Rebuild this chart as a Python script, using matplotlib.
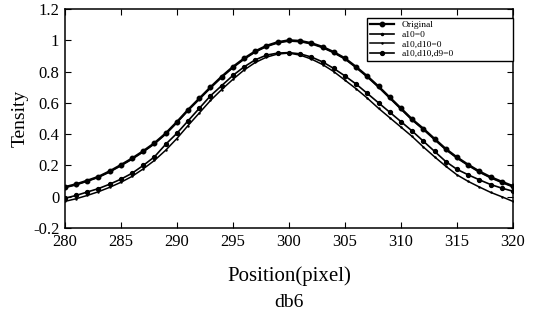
import numpy as np
import matplotlib
matplotlib.use('Agg')
import matplotlib.pyplot as plt

plt.rcParams['font.family'] = ['Liberation Serif', 'DejaVu Serif']

# positions (pixel) and intensity curves
position = np.arange(280, 321)

original = [0.062, 0.080, 0.103, 0.128, 0.163, 0.203, 0.245, 0.292, 0.343, 0.405,
            0.478, 0.556, 0.628, 0.700, 0.768, 0.830, 0.884, 0.930, 0.965, 0.988,
            1.000, 0.996, 0.982, 0.958, 0.925, 0.885, 0.830, 0.770, 0.705, 0.635,
            0.565, 0.495, 0.435, 0.370, 0.306, 0.252, 0.205, 0.162, 0.126, 0.096,
            0.068]
a10 = [0.058, 0.076, 0.099, 0.124, 0.158, 0.198, 0.240, 0.287, 0.338, 0.400,
       0.473, 0.551, 0.623, 0.695, 0.763, 0.825, 0.879, 0.925, 0.960, 0.983,
       0.995, 0.991, 0.977, 0.953, 0.920, 0.880, 0.825, 0.765, 0.700, 0.630,
       0.560, 0.490, 0.430, 0.365, 0.301, 0.247, 0.200, 0.157, 0.121, 0.091,
       0.063]
a10_d10 = [-0.030, -0.013, 0.008, 0.032, 0.060, 0.092, 0.130, 0.178, 0.232, 0.297,
           0.372, 0.455, 0.535, 0.615, 0.685, 0.750, 0.810, 0.858, 0.892, 0.912,
           0.918, 0.905, 0.880, 0.845, 0.800, 0.745, 0.690, 0.630, 0.565, 0.505,
           0.445, 0.385, 0.318, 0.255, 0.195, 0.140, 0.098, 0.062, 0.028, 0.000,
           -0.030]
a10_d10_d9 = [-0.010, 0.008, 0.030, 0.052, 0.080, 0.112, 0.150, 0.200, 0.255, 0.335,
              0.405, 0.485, 0.565, 0.645, 0.710, 0.775, 0.830, 0.875, 0.905, 0.918,
              0.921, 0.913, 0.893, 0.862, 0.820, 0.772, 0.720, 0.660, 0.600, 0.540,
              0.480, 0.420, 0.355, 0.290, 0.225, 0.175, 0.140, 0.108, 0.078, 0.055,
              0.035]

xticks = [280, 285, 290, 295, 300, 305, 310, 315, 320]
yticks = [-0.2, 0, 0.2, 0.4, 0.6, 0.8, 1, 1.2]
ytick_labels = ['-0.2', '0', '0.2', '0.4', '0.6', '0.8', '1', '1.2']

fig = plt.figure(figsize=(5.36, 3.2), dpi=100)
ax = fig.add_axes([0.121, 0.2875, 0.836, 0.6845])

ax.plot(position, original, color='black', lw=1.6, marker='o', ms=3.2, label='Original')
ax.plot(position, a10, color='black', lw=1.2, marker='.', ms=3, label='a10=0')
ax.plot(position, a10_d10, color='black', lw=1.1, marker='.', ms=1.5, label='a10,d10=0')
ax.plot(position, a10_d10_d9, color='black', lw=1.2, marker='o', ms=2.8, label='a10,d10,d9=0')

ax.set_xlim(280, 320)
ax.set_ylim(-0.2, 1.2)
ax.set_xticks(xticks)
ax.set_yticks(yticks)
ax.set_yticklabels(ytick_labels)
ax.tick_params(direction='in', top=True, right=True, length=4, labelsize=12, pad=4)
for s in ax.spines.values():
    s.set_linewidth(1.1)

ax.set_ylabel('Tensity', fontsize=14, labelpad=3)
ax.set_xlabel('Position(pixel)', fontsize=15, labelpad=12)
fig.text(0.539, 0.055, 'db6', ha='center', va='center', fontsize=14)

leg = ax.legend(loc='upper left', bbox_to_anchor=(0.674, 0.0, 0.326, 0.959),
                mode='expand', borderaxespad=0, fontsize=6.8, handlelength=2.6,
                labelspacing=0.1, handletextpad=0.8, borderpad=0.3,
                fancybox=False, framealpha=1, edgecolor='black')
leg.get_frame().set_linewidth(1.0)

fig.savefig('out.png', dpi=100)
